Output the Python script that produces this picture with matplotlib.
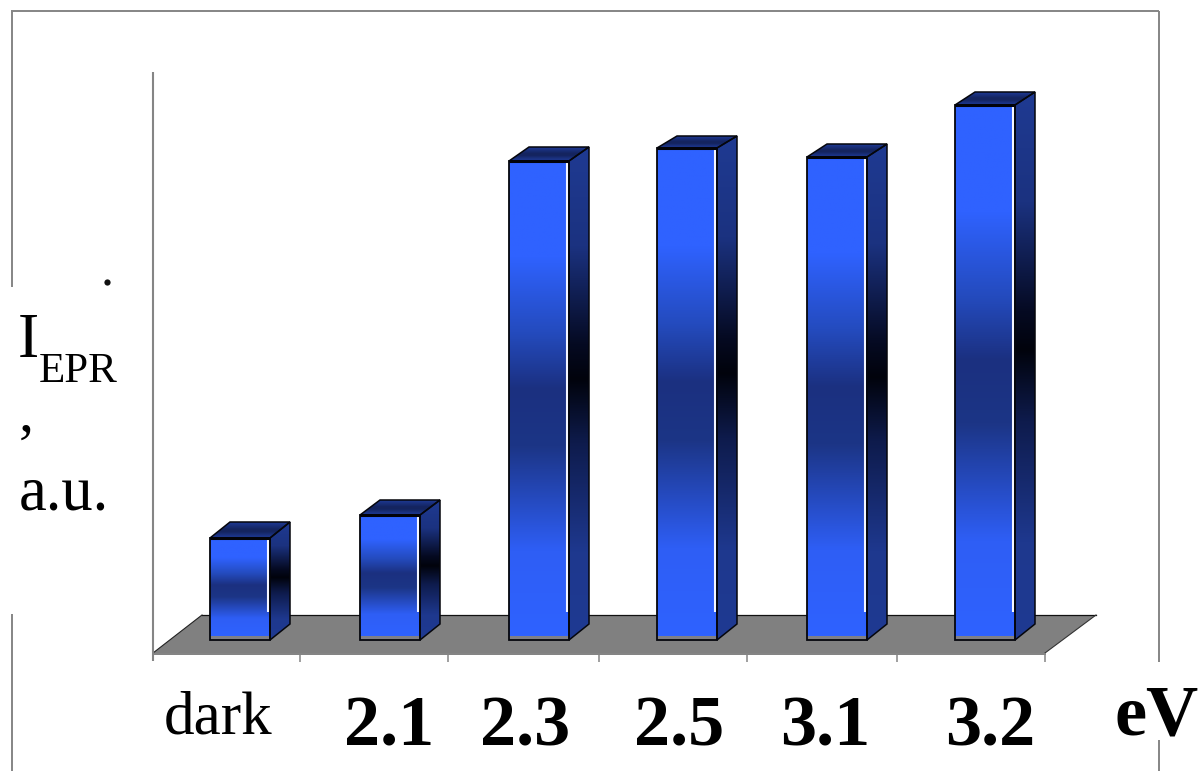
import numpy as np
import matplotlib
matplotlib.use("Agg")
import matplotlib.pyplot as plt
from matplotlib.colors import LinearSegmentedColormap
from matplotlib.patches import Polygon

# Chart data
categories = ["dark", "2.1", "2.3", "2.5", "3.1", "3.2"]
intensity = [1.02, 1.25, 4.79, 4.92, 4.83, 5.35]
bar_centres = [240, 390, 539, 687, 837, 985]
top_depths = [16, 15, 14, 12, 13, 13]
axis_ticks = [153, 300, 448, 599, 747, 897, 1045]

W, H = 1200, 771
fig = plt.figure(figsize=(W / 100, H / 100), dpi=100, facecolor="white")
plt.rcParams["font.family"] = ["Liberation Serif", "DejaVu Serif"]

# Pixel-space layer for the frame, floor and labels
px = fig.add_axes([0, 0, 1, 1], zorder=1)
px.set_xlim(0, W)
px.set_ylim(H, 0)
px.axis("off")

# Value-space layer for the bars: 100 px per unit, baseline at y = 640 px
ax = fig.add_axes([0, 0, 1, 1], zorder=2)
ax.patch.set_alpha(0)
ax.axis("off")
y_scale = 100.0
baseline = 640.0
ylim = (-(H - baseline) / y_scale, baseline / y_scale)
xlim = (0, W)

GREY = "#858585"
for xs, ys in [([11.5, 11.5], [11, 287]), ([11.5, 11.5], [614, 771]),
               ([11, 1159], [11, 11]), ([1159, 1159], [11, 662]),
               ([1159, 1159], [740, 771])]:
    px.plot(xs, ys, color=GREY, lw=1.4, solid_capstyle="butt")

# Floor and axes
px.add_patch(Polygon([(153, 653), (1045, 653), (1096, 615), (202, 615)],
                     closed=True, facecolor="#808080", edgecolor="none"))
px.plot([202, 1096], [615, 615], color="#111111", lw=0.9)
px.plot([153, 202], [653, 615], color="#222222", lw=0.8)
px.plot([1045, 1096], [653, 615], color="#333333", lw=0.8)
px.plot([153, 1045], [653.5, 653.5], color="#777777", lw=1.3)
px.plot([153, 153], [72, 661], color=GREY, lw=1.5, solid_capstyle="butt")
for t in axis_ticks[1:]:
    px.plot([t, t], [653, 662], color=GREY, lw=1.1, solid_capstyle="butt")

# Gradients
front_cmap = LinearSegmentedColormap.from_list("front", [
    (0.0, "#2F62FF"), (0.2, "#2F62FF"), (0.36, "#244BBE"), (0.48, "#1B3080"),
    (0.6, "#1C3586"), (0.82, "#2E5EF5"), (1.0, "#2F62FF")])
side_cmap = LinearSegmentedColormap.from_list("side", [
    (0.0, "#1F3A92"), (0.2, "#1B3280"), (0.4, "#050A22"), (0.47, "#01030C"),
    (0.6, "#0E1B4C"), (0.82, "#1E388E"), (1.0, "#1F3A92")])
top_cmap = LinearSegmentedColormap.from_list("top", [
    (0.0, "#1E3A96"), (0.45, "#14245F"), (0.6, "#14245F"), (1.0, "#1F3C9C")])
ramp = np.linspace(0, 1, 256).reshape(-1, 1)

half = 30
dx, dy = 20, 16


def v(px_y):
    """Pixel height above the baseline expressed in value units."""
    return px_y / y_scale


for centre, value, depth in zip(bar_centres, intensity, top_depths):
    left, right = centre - half, centre + half
    # Front face with its grey foot
    ax.imshow(ramp, cmap=front_cmap, aspect="auto", zorder=3,
              extent=(left, right, v(4), value), vmin=0, vmax=1, origin="upper")
    ax.add_patch(Polygon([(left, 0), (right, 0), (right, v(4)), (left, v(4))],
                         facecolor="#7F7F87", edgecolor="none", zorder=3))
    # Side face
    side_pts = [(right, 0), (right + dx, v(dy)), (right + dx, value + v(depth)), (right, value)]
    side = Polygon(side_pts, facecolor="none", edgecolor="none")
    ax.add_patch(side)
    im = ax.imshow(ramp, cmap=side_cmap, aspect="auto", zorder=3,
                   extent=(right, right + dx, 0, value + v(depth)),
                   vmin=0, vmax=1, origin="upper")
    im.set_clip_path(side)
    # Top face
    top_pts = [(left, value), (right, value), (right + dx, value + v(depth)),
               (left + dx, value + v(depth))]
    top = Polygon(top_pts, facecolor="none", edgecolor="none")
    ax.add_patch(top)
    im = ax.imshow(ramp, cmap=top_cmap, aspect="auto", zorder=3,
                   extent=(left, right + dx, value, value + v(depth)),
                   vmin=0, vmax=1, origin="upper")
    im.set_clip_path(top)
    # Highlight and outlines
    ax.plot([right - 2, right - 2], [v(28), value - v(2)], color="#F4F6FF", lw=1.5, zorder=4,
            solid_capstyle="butt")
    for poly, lw in [
        ([(left, 0), (right, 0), (right, value), (left, value)], 1.3),
        (side_pts, 1.1),
        (top_pts, 1.1),
    ]:
        ax.add_patch(Polygon(poly, closed=True, facecolor="none", edgecolor="#05060C",
                             lw=lw, zorder=5, joinstyle="miter"))
    ax.plot([left, right], [value, value], color="#02030A", lw=2.2, zorder=6,
            solid_capstyle="butt")

ax.set_xlim(*xlim)
ax.set_ylim(*ylim)

# Category labels
label_x = [218, 389, 525, 679, 825, 990]
px.text(label_x[0], 733, categories[0], fontsize=44, ha="center", va="baseline", color="black")
for x, label in zip(label_x[1:], categories[1:]):
    px.text(x, 745, label, fontsize=52, fontweight="bold", ha="center", va="baseline", color="black")
px.text(1157, 734, "eV", fontsize=52, fontweight="bold", ha="center", va="baseline", color="black")

# Vertical axis title, broken across lines as typeset
px.text(18, 357, "I", fontsize=46, ha="left", va="baseline", color="black")
px.text(39, 382, "EPR", fontsize=31, ha="left", va="baseline", color="black")
px.text(19, 431, ",", fontsize=43, ha="left", va="baseline", color="black")
px.text(19, 510, "a.u.", fontsize=45, ha="left", va="baseline", color="black")
px.plot([107], [282], marker="o", ms=4.5, color="#111111", mew=0)

fig.savefig("out.png", dpi=100, facecolor="white")
